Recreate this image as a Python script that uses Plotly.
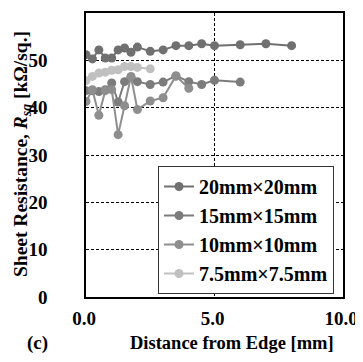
import plotly.graph_objects as go

series_names = ["20mm×20mm", "15mm×15mm", "10mm×10mm", "7.5mm×7.5mm"]

x_20 = [0, 0.25, 0.5, 0.75, 1.0, 1.25, 1.5, 1.75, 2.0, 2.5, 3.0, 3.5, 4.0, 4.5, 5.0, 6.0, 7.0, 8.0]
y_20 = [51.2, 50.3, 52.2, 50.5, 50.5, 52.2, 52.6, 51.7, 52.8, 51.9, 52.2, 53.1, 53.1, 53.5, 53.1, 53.3, 53.5, 53.1]

x_15 = [0, 0.25, 0.5, 0.75, 1.0, 1.25, 1.5, 1.75, 2.0, 2.5, 3.0, 3.5, 4.0, 4.5, 5.0, 6.0]
y_15 = [43.6, 43.6, 43.4, 43.8, 45.2, 41.2, 45.5, 46.4, 45.5, 44.9, 45.4, 46.7, 45.5, 44.9, 45.8, 45.4]

x_10 = [0, 0.25, 0.5, 0.75, 1.0, 1.25, 1.5, 1.75, 2.0, 2.5, 3.0, 3.5, 4.0]
y_10 = [41.3, 43.8, 38.4, 43.6, 43.8, 34.3, 40.4, 46.6, 39.6, 41.4, 42.1, 46.7, 44.1]

x_75 = [0, 0.25, 0.5, 0.75, 1.0, 1.25, 1.5, 1.75, 2.0, 2.5]
y_75 = [45.7, 46.6, 47.3, 47.5, 47.9, 48.0, 48.7, 48.7, 48.5, 48.2]

x_ticks = [0, 5, 10]
x_tick_labels = ["0.0", "5.0", "10.0"]
y_ticks = [0, 10, 20, 30, 40, 50, 60]

colors = ["#707070", "#7c7c7c", "#8e8e8e", "#c0c0c0"]
FONT = "Liberation Serif"

# page has an 8px body margin; plot area targets (window px): left 86, right 343, top 13, bottom 297
OFF = 8
W, H = 363 - OFF, 362 - OFF
L, T = 86 - OFF, 13 - OFF
R, B = W - (343 - OFF), H - (297 - OFF)
PW, PH = W - L - R, H - T - B


def px(xw):
    return (xw - 86) / PW


def py(yw):
    return (297 - yw) / PH


fig = go.Figure()
data = [(x_20, y_20), (x_15, y_15), (x_10, y_10), (x_75, y_75)]
for (xs, ys), name, c in zip(data, series_names, colors):
    fig.add_trace(go.Scatter(
        x=xs, y=ys, name=name, mode="lines+markers",
        line=dict(color=c, width=2),
        marker=dict(color=c, size=9),
    ))

TICKFONT = dict(family=FONT, size=19, color="black", weight="bold")

fig.update_layout(
    width=W, height=H,
    margin=dict(l=L, r=R, t=T, b=B, autoexpand=False),
    plot_bgcolor="white", paper_bgcolor="white",
    font=dict(family=FONT, size=19, color="black", weight="bold"),
    showlegend=True,
    legend=dict(
        x=px(158), y=py(166), xanchor="left", yanchor="top",
        bgcolor="white", bordercolor="#333333", borderwidth=1,
        font=dict(family=FONT, size=20, color="black", weight="bold"),
        itemwidth=30, tracegroupgap=0,
    ),
    annotations=[
        dict(text="(c)", x=px(37), y=py(343),
             xref="paper", yref="paper", xanchor="center", yanchor="middle",
             showarrow=False, font=dict(family=FONT, size=19, color="black", weight="bold")),
        dict(text="Distance from Edge [mm]", x=px(232), y=py(343),
             xref="paper", yref="paper", xanchor="center", yanchor="middle",
             showarrow=False, font=dict(family=FONT, size=18.5, color="black", weight="bold")),
        dict(text="Sheet Resistance, <i>R<sub>sq</sub></i> [kΩ/sq.]", x=px(22), y=py(154),
             xref="paper", yref="paper", xanchor="center", yanchor="middle",
             textangle=-90,
             showarrow=False, font=dict(family=FONT, size=19.5, color="black", weight="bold")),
    ],
)

fig.update_xaxes(
    range=[0, 10], tickvals=x_ticks, ticktext=x_tick_labels, automargin=False,
    showline=True, linecolor="black", linewidth=1.5, mirror=True,
    showgrid=True, gridcolor="black", gridwidth=1, griddash="3px,2px",
    zeroline=False, ticks="", ticklabelstandoff=3, ticklabelshift=-2,
    tickfont=TICKFONT,
)
fig.update_yaxes(
    range=[0, 60], tickvals=y_ticks, automargin=False,
    showline=True, linecolor="black", linewidth=1.5, mirror=True,
    showgrid=True, gridcolor="black", gridwidth=1, griddash="3px,2px",
    zeroline=False, ticks="", ticklabelstandoff=33,
    tickfont=TICKFONT,
)

fig.write_html("out.html")
